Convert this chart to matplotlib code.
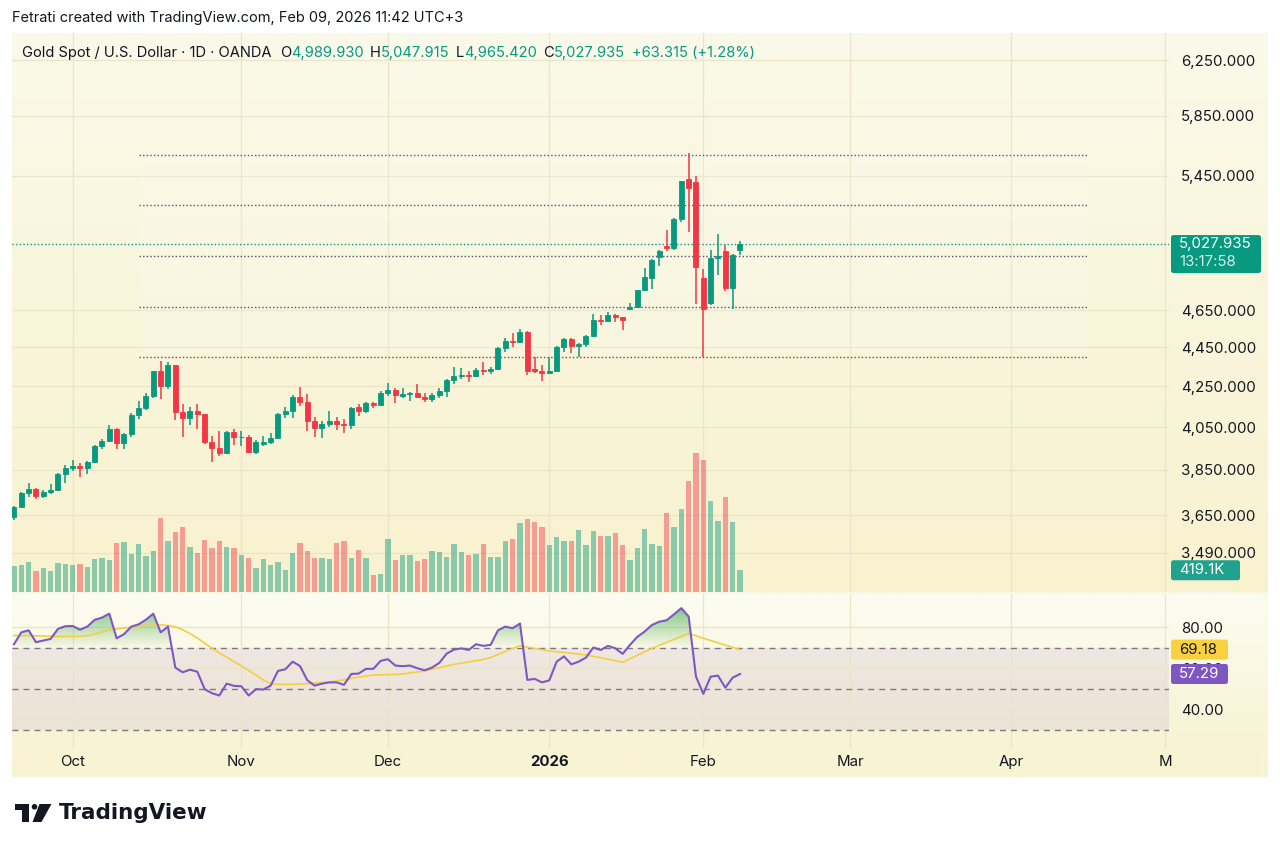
import numpy as np
import pandas as pd
import matplotlib
matplotlib.use("Agg")
import matplotlib.pyplot as plt
from matplotlib.patches import Rectangle, FancyBboxPatch, Polygon, Circle
from matplotlib.transforms import IdentityTransform, blended_transform_factory
from matplotlib.path import Path
from matplotlib.colors import to_rgb
from matplotlib.ticker import NullLocator

plt.rcParams['font.family'] = ['Inter', 'DejaVu Sans']

# ---------------- data ----------------
start_date = '2025-09-19'
end_date = '2026-02-09'
holidays = ['2025-12-25', '2026-01-01']
future_holidays = ['2026-04-03']
calendar_end = '2026-05-29'

opens = [3640, 3685, 3745, 3765, 3735, 3749, 3760, 3832, 3858, 3866,
         3857, 3887, 3960, 3985, 4040, 3976, 4017, 4110, 4142, 4201,
         4326, 4251, 4356, 4125, 4095, 4126, 4112, 3981, 3952, 3930,
         4025, 4002, 4004, 3932, 3970, 3978, 4000, 4115, 4128, 4195,
         4170, 4080, 4045, 4065, 4078, 4064, 4058, 4145, 4130, 4165,
         4155, 4218, 4232, 4203, 4210, 4214, 4198, 4188, 4208, 4228,
         4280, 4300, 4305, 4300, 4335, 4328, 4338, 4445, 4485, 4480,
         4530, 4340, 4330, 4315, 4330, 4450, 4495, 4455, 4470, 4510,
         4597, 4590, 4625, 4610, 4655, 4670, 4760, 4830, 4950, 5015,
         5005, 5180, 5430, 5410, 4830, 4690, 4945, 4985, 4775, 4989.930]
highs = [3688, 3750, 3790, 3770, 3760, 3785, 3835, 3871, 3895, 3880,
         3890, 3965, 3995, 4059, 4045, 4022, 4116, 4179, 4218, 4330,
         4380, 4375, 4360, 4161, 4147, 4161, 4115, 4007, 4030, 4030,
         4040, 4030, 4010, 3990, 4007, 4020, 4118, 4148, 4205, 4245,
         4211, 4100, 4080, 4130, 4100, 4090, 4145, 4160, 4170, 4172,
         4225, 4265, 4240, 4240, 4222, 4260, 4215, 4215, 4240, 4288,
         4350, 4345, 4330, 4342, 4375, 4350, 4450, 4500, 4525, 4550,
         4535, 4400, 4358, 4400, 4455, 4500, 4500, 4475, 4515, 4630,
         4625, 4640, 4630, 4615, 4690, 4765, 4888, 4940, 4990, 5110,
         5185, 5420, 5598, 5450, 4880, 4990, 5090, 5020, 4970, 5047.915]
lows = [3630, 3680, 3730, 3718, 3725, 3740, 3755, 3793, 3845, 3820,
        3830, 3883, 3945, 3980, 3945, 3947, 4005, 4089, 4132, 4190,
        4185, 4235, 4082, 4004, 4060, 4040, 3971, 3886, 3916, 3925,
        3966, 3962, 3928, 3925, 3960, 3970, 3998, 4095, 4095, 4150,
        4030, 4005, 4000, 4050, 4035, 4020, 4040, 4105, 4120, 4140,
        4150, 4200, 4165, 4190, 4175, 4190, 4170, 4170, 4190, 4195,
        4260, 4285, 4270, 4295, 4305, 4310, 4335, 4425, 4450, 4475,
        4305, 4315, 4275, 4310, 4325, 4425, 4420, 4400, 4450, 4505,
        4570, 4585, 4585, 4540, 4650, 4660, 4755, 4770, 4900, 4985,
        4995, 5160, 5100, 4682, 4402, 4680, 4850, 4755, 4655, 4965.420]
closes = [3685, 3745, 3765, 3735, 3749, 3760, 3830, 3858, 3866, 3857,
          3887, 3960, 3985, 4040, 3976, 4017, 4110, 4142, 4201, 4326,
          4251, 4356, 4125, 4095, 4126, 4112, 3981, 3952, 3930, 4025,
          4002, 4004, 3932, 3980, 3978, 4000, 4115, 4128, 4195, 4170,
          4080, 4045, 4065, 4078, 4064, 4058, 4140, 4130, 4165, 4155,
          4218, 4232, 4205, 4212, 4214, 4198, 4188, 4208, 4228, 4280,
          4300, 4305, 4300, 4335, 4328, 4338, 4445, 4485, 4480, 4530,
          4330, 4330, 4315, 4330, 4450, 4495, 4455, 4470, 4510, 4597,
          4590, 4625, 4610, 4595, 4670, 4760, 4835, 4935, 4985, 5005,
          5180, 5415, 5375, 4895, 4655, 4945, 4955, 4775, 4965, 5027.935]
# volume in thousands
volumes_k = [496, 515, 573, 400, 469, 411, 565, 540, 515, 540,
             488, 637, 650, 623, 940, 965, 728, 932, 689, 786,
             1434, 984, 1164, 1249, 869, 747, 998, 843, 979, 863,
             849, 714, 656, 457, 637, 527, 585, 419, 747, 940,
             791, 650, 650, 637, 951, 984, 656, 811, 656, 328,
             353, 1023, 612, 714, 708, 593, 637, 797, 772, 670,
             926, 772, 714, 728, 926, 681, 670, 979, 1023, 1332,
             1403, 1357, 1260, 907, 1056, 990, 979, 1202, 901, 1183,
             1081, 1081, 1133, 913, 612, 843, 1222, 921, 894, 1519,
             1260, 1602, 2137, 2677, 2548, 1756, 1376, 1839, 1345, 419.1]
rsi = [71.8, 77.6, 78.6, 72.8, 73.6, 74.4, 79.3, 80.6, 80.7, 78.9,
       80.4, 83.7, 84.8, 86.7, 74.7, 76.7, 80.4, 81.5, 83.8, 86.7,
       77.6, 80.4, 60.4, 58.1, 59.4, 58.4, 49.9, 47.9, 46.8, 52.6,
       51.5, 51.3, 46.8, 49.9, 49.7, 51.6, 58.8, 59.6, 63.3, 61.2,
       54.2, 51.6, 52.6, 53.2, 53.2, 52.0, 57.3, 57.5, 59.8, 59.8,
       63.7, 64.5, 61.4, 61.1, 61.4, 60.1, 59.1, 60.4, 62.7, 67.2,
       69.2, 69.8, 69.0, 71.8, 71.0, 71.5, 78.6, 80.4, 79.6, 81.9,
       54.4, 54.9, 53.2, 54.2, 63.3, 65.9, 62.0, 63.3, 65.3, 70.2,
       69.0, 71.0, 69.8, 67.1, 71.5, 75.4, 78.0, 81.2, 82.8, 83.5,
       86.4, 89.4, 85.3, 56.0, 47.6, 56.0, 56.5, 50.6, 55.5, 57.29]
rsi_ma = [76.0, 76.0, 76.0, 75.9, 75.8, 75.7, 75.6, 75.6, 75.6, 75.7,
          76.0, 76.7, 77.8, 78.8, 79.3, 79.7, 80.2, 80.6, 81.0, 81.2,
          81.2, 81.0, 80.2, 78.9, 77.0, 74.8, 72.3, 69.8, 67.6, 65.5,
          63.3, 61.3, 59.0, 56.8, 54.4, 52.6, 52.3, 52.3, 52.3, 52.4,
          52.6, 52.8, 53.1, 53.4, 53.9, 54.4, 55.2, 55.8, 56.3, 56.8,
          56.9, 57.0, 57.1, 57.3, 57.8, 58.3, 58.8, 59.6, 60.4, 61.2,
          62.0, 62.6, 63.2, 63.8, 64.4, 65.3, 66.8, 68.3, 69.7, 71.1,
          70.4, 69.8, 69.1, 68.5, 68.1, 67.8, 67.4, 67.0, 66.6, 65.9,
          65.2, 64.5, 63.7, 63.0, 64.7, 66.4, 68.1, 69.8, 71.3, 72.7,
          74.2, 75.6, 77.1, 75.9, 74.7, 73.6, 72.5, 71.4, 70.3, 69.18]
level_prices = [5586, 5266, 4958, 4667, 4399]
price_ticks = [6250, 5850, 5450, 4650, 4450, 4250, 4050, 3850, 3650, 3490]
rsi_ticks = [80, 60, 40]
rsi_levels = [70, 50, 30]
month_starts = ['2025-10-01', '2025-11-01', '2025-12-01', '2026-01-01',
                '2026-02-01', '2026-03-01', '2026-04-01', '2026-05-01']
month_labels = ['Oct', 'Nov', 'Dec', '2026', 'Feb', 'Mar', 'Apr', 'M']
header_top = 'Fetrati created with TradingView.com, Feb 09, 2026 11:42 UTC+3'
symbol_title = 'Gold Spot / U.S. Dollar · 1D · OANDA'
change_text = '+63.315 (+1.28%)'
countdown = '13:17:58'

# ---------------- setup ----------------
opens = np.array(opens); highs = np.array(highs); lows = np.array(lows)
closes = np.array(closes); volumes_k = np.array(volumes_k)
rsi = np.array(rsi); rsi_ma = np.array(rsi_ma)

dates = pd.bdate_range(start_date, end_date).drop(pd.to_datetime(holidays))
cal = pd.bdate_range(start_date, calendar_end).drop(pd.to_datetime(holidays + future_holidays))
tick_pos = cal.searchsorted(pd.to_datetime(month_starts))
x = np.arange(len(dates))

GREEN = '#089981'
RED = '#F23645'
TXT = '#131722'
GRID = '#EAE4C8'

W, H = 1280, 850
fig = plt.figure(figsize=(W / 100, H / 100), dpi=100, facecolor='white')


def rect(x0, y0, x1, y1):
    return [x0 / W, 1 - y1 / H, (x1 - x0) / W, (y1 - y0) / H]


# background gradient for the chart area
bg = fig.add_axes(rect(12, 33, 1268, 777), zorder=0)
bg.axis('off')
rows = 777 - 33
img = np.zeros((rows, 1, 3))
mt, mb = np.array([251, 249, 233]), np.array([248, 242, 207])
rt, rb = np.array([253, 252, 241]), np.array([248, 243, 211])
for r in range(rows):
    yy = 33 + r
    if yy < 592:
        t = (yy - 33) / (592 - 33)
        c = mt * (1 - t) + mb * t
    elif yy < 594:
        c = np.array([250, 247, 228])
    elif yy < 748:
        t = (yy - 594) / (748 - 594)
        c = rt * (1 - t) + rb * t
    else:
        c = rb
    img[r, 0] = c / 255
bg.imshow(img, aspect='auto', extent=[0, 1, 0, 1], interpolation='bilinear')
bg.set_xlim(0, 1); bg.set_ylim(0, 1)

XL = (-0.27, 157.5)
PLO, PHI = 3332.6, 6452.7

# volume / grid layer
vax = fig.add_axes(rect(12, 33, 1169, 592), zorder=1)
vax.set_facecolor('none')
vax.axis('off')

ax = fig.add_axes(rect(12, 33, 1169, 592), zorder=2)
ax.set_facecolor('none')
ax.set_yscale('log')
ax.set_xlim(*XL); ax.set_ylim(PLO, PHI)
vax.set_xlim(*XL); vax.set_ylim(0, 2677 * 559 / 139)

btr = blended_transform_factory(vax.transAxes, ax.transData)
for p in price_ticks:
    vax.plot([0, 1], [p, p], transform=btr, color=GRID, lw=0.9, zorder=0)
for tp in tick_pos:
    vax.axvline(tp, color=GRID, lw=0.9, zorder=0)

up = closes >= opens
colors = np.where(up, GREEN, RED)
vax.bar(x, volumes_k, width=0.76, color=colors, alpha=0.45, lw=0, zorder=1)

# shaded drawing region and levels
ax.add_patch(Rectangle((17, level_prices[-1]), 146.5 - 17, level_prices[0] - level_prices[-1],
                       facecolor='white', alpha=0.13, lw=0, zorder=1))
level_colors = ['#5B4E86', '#5B4E86', '#4F4F6F', '#4F4F6F', '#7A4A4A']
for lp, lc in zip(level_prices, level_colors):
    ax.hlines(lp, 17, 146.5, colors=lc, linestyles=(0, (1, 1.6)), lw=1, zorder=2)
ax.axhline(closes[-1], color=GREEN, ls=(0, (1, 1.6)), lw=1, zorder=2)

ax.vlines(x, lows, highs, colors=colors, lw=1.1, zorder=3)
ax.bar(x, np.abs(closes - opens), bottom=np.minimum(opens, closes), width=0.68,
       color=colors, edgecolor=colors, lw=0.6, zorder=4)
ax.set_xlim(*XL); ax.set_ylim(PLO, PHI)

for s in ax.spines.values():
    s.set_visible(False)
ax.set_xticks(tick_pos)
ax.tick_params(axis='x', length=0, labelbottom=False)
ax.yaxis.tick_right()
ax.set_yticks(price_ticks)
ax.set_yticklabels([f'{p:,.3f}' for p in price_ticks])
ax.yaxis.set_minor_locator(NullLocator())
ax.tick_params(axis='y', which='both', length=0, pad=8.6, labelsize=10.8, labelcolor=TXT)

# ---------------- RSI pane ----------------
rax = fig.add_axes(rect(12, 594, 1169, 748), zorder=2)
rax.set_facecolor('none')
for s in rax.spines.values():
    s.set_visible(False)
rax.axhspan(30, 70, color='#7E57C2', alpha=0.1, lw=0, zorder=0)
for v in rsi_ticks:
    rax.axhline(v, color=GRID, lw=0.9, zorder=0.5)
for tp in tick_pos:
    rax.axvline(tp, color=GRID, lw=0.9, zorder=0.5)
for v in rsi_levels:
    rax.axhline(v, color='#787B86', lw=1, ls=(0, (4.3, 3.6)), zorder=1)

fill = rax.fill_between(x, rsi, 70, where=rsi >= 70, interpolate=True,
                        facecolor='none', edgecolor='none')
clip = Path.make_compound_path(*fill.get_paths())
grad = np.zeros((256, 1, 4))
grad[..., :3] = to_rgb('#4CAF50')
grad[:, 0, 3] = np.linspace(0.0, 0.9, 256)
im = rax.imshow(grad, extent=[XL[0], XL[1], 70, 96.3], origin='lower', aspect='auto',
                zorder=2, interpolation='bilinear')
im.set_clip_path(clip, rax.transData)

rax.plot(x, rsi_ma, color='#F5CE42', lw=1.2, zorder=3)
rax.plot(x, rsi, color='#7E57C2', lw=1.5, zorder=4)
rax.set_xlim(*XL); rax.set_ylim(21.2, 96.3)

rax.yaxis.tick_right()
rax.set_yticks(rsi_ticks)
rax.set_yticklabels([f'{v:.2f}' for v in rsi_ticks])
rax.tick_params(axis='y', length=0, pad=8.6, labelsize=10.8, labelcolor=TXT)
rax.set_xticks(tick_pos)
rax.set_xticklabels(month_labels)
rax.tick_params(axis='x', length=0, pad=5, labelsize=10.8, labelcolor=TXT)
rax.get_xticklabels()[3].set_fontweight('bold')

# ---------------- value labels on the right ----------------
I = IdentityTransform()


def dispy(axis, v):
    return axis.transData.transform((0, v))[1]


def label_box(x0, x1, yc, h, fc, zo=10):
    fig.add_artist(FancyBboxPatch((x0, yc - h / 2), x1 - x0, h,
                                  boxstyle='round,pad=0,rounding_size=2.5',
                                  fc=fc, ec='none', transform=I, zorder=zo))


yp = dispy(ax, closes[-1])
fig.add_artist(FancyBboxPatch((1171, yp - 29), 90, 38, boxstyle='round,pad=0,rounding_size=2.5',
                              fc=GREEN, ec='none', transform=I, zorder=10))
fig.text(1179, yp, f'{closes[-1]:,.3f}', transform=I, color='white', fontsize=10.8,
         va='center', ha='left', zorder=11)
fig.text(1179, yp - 18, countdown, transform=I, color='#D6F0EA', fontsize=10.8,
         va='center', ha='left', zorder=11)

yv = dispy(vax, volumes_k[-1])
label_box(1171, 1240, yv, 20, '#22A28E')
fig.text(1179, yv, f'{volumes_k[-1]:.1f}K', transform=I, color='white', fontsize=10.8,
         va='center', ha='left', zorder=11)

ym = dispy(rax, rsi_ma[-1])
label_box(1171, 1228, ym, 20, '#F9D13E')
fig.text(1179, ym, f'{rsi_ma[-1]:.2f}', transform=I, color=TXT, fontsize=10.8,
         va='center', ha='left', zorder=11)
yr = dispy(rax, rsi[-1])
label_box(1171, 1228, yr, 20, '#7E57C2')
fig.text(1179, yr, f'{rsi[-1]:.2f}', transform=I, color='white', fontsize=10.8,
         va='center', ha='left', zorder=11)

# ---------------- header texts ----------------
fig.text(12 / W, 1 - 18 / H, header_top, fontsize=10.5, color=TXT, va='center', ha='left')

prev = fig.text(22 / W, 1 - 53 / H, symbol_title, fontsize=10.6, color=TXT, va='center', ha='left', zorder=12)
parts = [('O', TXT, 6.0), (f'{opens[-1]:,.3f}', GREEN, 0),
         ('H', TXT, 4.5), (f'{highs[-1]:,.3f}', GREEN, 0),
         ('L', TXT, 4.5), (f'{lows[-1]:,.3f}', GREEN, 0),
         ('C', TXT, 4.5), (f'{closes[-1]:,.3f}', GREEN, 0),
         (change_text, GREEN, 5)]
for s, c, gap in parts:
    prev = ax.annotate(s, xy=(1, 0), xycoords=prev, xytext=(gap, 0), textcoords='offset points',
                       va='bottom', ha='left', fontsize=10.6, color=c, annotation_clip=False, zorder=12)

# ---------------- TradingView logo ----------------
def P(px, py):
    return (px, H - py)


fig.add_artist(Polygon([P(15, 804), P(29, 804), P(29, 822), P(22, 822), P(22, 809.5), P(15, 809.5)],
                       closed=True, fc=TXT, ec='none', transform=I))
fig.add_artist(Circle(P(34.5, 806.8), 2.8, fc=TXT, ec='none', transform=I))
fig.add_artist(Polygon([P(39.5, 804), P(51.5, 804), P(41.5, 822), P(32.5, 822)],
                       closed=True, fc=TXT, ec='none', transform=I))
fig.text(59, H - 813, 'TradingView', transform=I, fontsize=15.5, fontweight='bold',
         family='DejaVu Sans', color=TXT, va='center', ha='left')

fig.savefig('out.png', dpi=100, facecolor='white')
